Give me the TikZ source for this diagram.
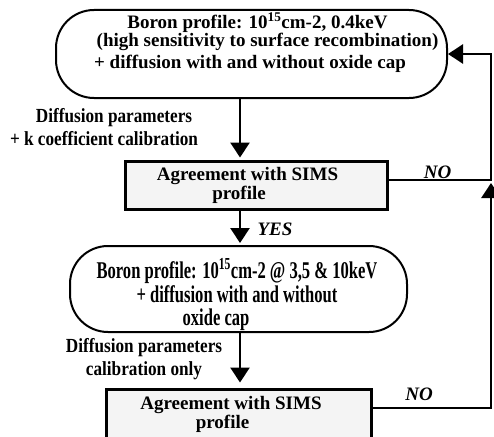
\documentclass[tikz,border=0pt]{standalone}
\usepackage{fontspec}
\setmainfont{Liberation Serif}
\newfontfamily\condA[FakeStretch=0.86]{Liberation Serif}
\newfontfamily\condB[FakeStretch=0.69]{Liberation Serif}
\usetikzlibrary{arrows.meta}
\definecolor{boxgray}{HTML}{F4F4F4}
\begin{document}
\begin{tikzpicture}[x=1pt,y=-1pt,
  rbox/.style={draw, line width=2pt, rounded corners=38pt, inner sep=0pt},
  gbox/.style={draw, line width=3pt, fill=boxgray, inner sep=0pt},
  conn/.style={line width=2.8pt, line join=miter, -{Triangle[length=15pt,width=19pt]}},
  mainfont/.style={font=\bfseries\fontsize{19}{17}\selectfont, inner sep=0pt, anchor=base, align=center},
  labfont/.style={font=\condA\bfseries\fontsize{20}{23}\selectfont, inner sep=0pt, anchor=base, align=center},
  condfont/.style={font=\condB\bfseries\fontsize{24}{20}\selectfont, inner sep=0pt, anchor=base, align=center},
  ansfont/.style={font=\bfseries\itshape\fontsize{19}{19}\selectfont, inner sep=0pt, anchor=base}]
\useasboundingbox (0,0) rectangle (494,436);
\clip (0,0) rectangle (494,436);
% boxes
\node[rbox, minimum width=391pt, minimum height=88pt] (b1) at (251.5,54) {};
\node[gbox, minimum width=262pt, minimum height=48pt] (b2) at (256,185) {};
\node[rbox, minimum width=337pt, minimum height=86pt] (b3) at (238.5,289) {};
\node[gbox, minimum width=265pt, minimum height=80pt] (b4) at (238.5,429) {};
% box texts (base anchor = baseline of the last line)
\node[mainfont] (t1) at (257.5,68) {Boron profile: 10\textsuperscript{15}cm-2, 0.4keV\\\hspace*{20pt}(high sensitivity to surface recombination)\\[3pt]+ diffusion with and without oxide cap\hspace*{15pt}};
\node[mainfont] (t2) at (247.5,199) {Agreement with SIMS\\profile\hspace*{17pt}};
\node[condfont] (t3) at (237,325) {Boron profile: 10\textsuperscript{15}cm-2 @ 3,5 \& 10keV\\+ diffusion with and without\hspace*{60pt}\\[3pt]oxide cap\hspace*{42pt}};
\node[mainfont] (t4) at (231,428) {Agreement with SIMS\\profile\hspace*{17pt}};
% labels
\node[labfont] (l1) at (104,145) {\hspace*{20pt}Diffusion parameters\\+ k coefficient calibration};
\node[labfont] (l2) at (144,375) {Diffusion parameters\\calibration only};
\node[ansfont] (yes) at (275,235) {YES};
\node[ansfont] (no1) at (437.5,178) {NO};
\node[ansfont] (no2) at (419,400) {NO};
% connectors
\coordinate (ax) at (240,0);
\coordinate (r1) at (491,180);
\coordinate (r1b) at (491,183);
\coordinate (r2) at (491,408);
\draw[conn, shorten >=2pt] (ax |- b1.south) -- (ax |- b2.north);
\draw[conn, shorten >=2pt] (ax |- b2.south) -- (ax |- b3.north);
\draw[conn, shorten >=5pt] (ax |- b3.south) -- (ax |- b4.north);
\draw[conn] (b2.east |- r1) -- (r1) |- (b1.east);
\draw[conn] (b4.east |- r2) -- (r2) -- (r1b);
\end{tikzpicture}
\end{document}
